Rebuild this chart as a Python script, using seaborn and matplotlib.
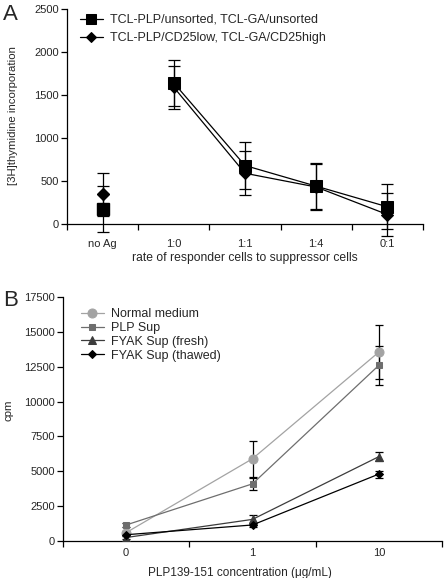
import matplotlib
matplotlib.use('Agg')
import matplotlib.pyplot as plt
import seaborn as sns
import numpy as np
from matplotlib.ticker import FixedLocator

# Panel A data
cats_a = ['no Ag', '1:0', '1:1', '1:4', '0:1']
unsorted = [175, 1640, 680, 440, 200]
unsorted_err = [270, 270, 270, 265, 260]
cd25 = [345, 1590, 590, 430, 110]
cd25_err = [250, 250, 255, 270, 250]
labels_a = ['TCL-PLP/unsorted, TCL-GA/unsorted', 'TCL-PLP/CD25low, TCL-GA/CD25high']

# Panel B data
cats_b = ['0', '1', '10']
normal = [600, 5900, 13550]
normal_err = [120, 1300, 1950]
plp = [1150, 4100, 12600]
plp_err = [150, 450, 1400]
fresh = [250, 1550, 6050]
fresh_err = [100, 300, 300]
thawed = [450, 1150, 4800]
thawed_err = [100, 150, 250]
labels_b = ['Normal medium', 'PLP Sup', 'FYAK Sup (fresh)', 'FYAK Sup (thawed)']

sns.set_style('ticks')
plt.rcParams['font.family'] = ['Liberation Sans', 'DejaVu Sans']

fig = plt.figure(figsize=(4.44, 5.78), dpi=100)
W, H = 444, 578

def style_axis(ax, ncat, ytop):
    ax.spines['top'].set_visible(False)
    ax.spines['right'].set_visible(False)
    ax.spines['bottom'].set_position(('data', 0))
    ax.spines['left'].set_bounds(0, ytop)
    for s in ['left', 'bottom']:
        ax.spines[s].set_linewidth(0.9)
        ax.spines[s].set_color('black')
    ax.set_xlim(-0.5, ncat - 0.5)
    ax.xaxis.set_minor_locator(FixedLocator(np.arange(ncat + 1) - 0.5))
    ax.tick_params(axis='x', which='major', length=0, labelsize=8, pad=11)
    ax.tick_params(axis='x', which='minor', length=4, width=0.9, direction='out', color='black')
    ax.tick_params(axis='y', length=4, width=0.9, direction='out', labelsize=8, pad=2, color='black')

# ---------------- Panel A ----------------
a_top, a_zero = 9, 224
a_ymin = -200
ppu = (a_zero - a_top) / 2500
a_bot = a_zero - a_ymin * ppu
axA = fig.add_axes([67 / W, 1 - a_bot / H, 356 / W, (a_bot - a_top) / H])
xa = np.arange(len(cats_a))

for vals, errs, mk, ms, lab in [(unsorted, unsorted_err, 's', 9, labels_a[0]),
                                 (cd25, cd25_err, 'D', 6.5, labels_a[1])]:
    axA.errorbar(xa, vals, yerr=errs, fmt='none', ecolor='black', elinewidth=0.9,
                 capsize=4, capthick=0.9, clip_on=False, zorder=2)
    sns.lineplot(x=xa[1:], y=vals[1:], ax=axA, color='black', marker=mk, markersize=ms,
                 markeredgecolor='black', linewidth=0.9, label=lab, zorder=3)
    axA.plot(xa[:1], vals[:1], marker=mk, markersize=ms, color='black', linestyle='none',
             zorder=3)

style_axis(axA, len(cats_a), 2500)
axA.set_ylim(a_ymin, 2500)
axA.set_yticks([0, 500, 1000, 1500, 2000, 2500])
axA.set_xticks(xa)
axA.set_xticklabels(cats_a)
axA.set_xlabel('rate of responder cells to suppressor cells', fontsize=8.7)
axA.xaxis.set_label_coords(0.5, (a_bot - 252) / (a_bot - a_top))
axA.set_ylabel('[3H]thymidine incorporation', fontsize=8.2)
axA.yaxis.set_label_coords((18 - 67) / 356, (a_bot - 116) / (a_bot - a_top))
axA.legend(loc='upper left', bbox_to_anchor=((80 - 67) / 356, (a_bot - 14) / (a_bot - a_top)),
           frameon=False, fontsize=9, borderpad=0, borderaxespad=0, handlelength=1.8,
           handletextpad=0.6, labelspacing=0.5, markerscale=0.75)

fig.text(3 / W, 1 - 4 / H, 'A', fontsize=16, va='top', ha='left')

# ---------------- Panel B ----------------
b_top, b_zero = 297, 541
axB = fig.add_axes([63 / W, 1 - b_zero / H, 379 / W, (b_zero - b_top) / H])
xb = np.arange(len(cats_b))

series_b = [(normal, normal_err, 'o', 6.5, '#a3a3a3', labels_b[0]),
            (plp, plp_err, 's', 4.5, '#6e6e6e', labels_b[1]),
            (fresh, fresh_err, '^', 5.5, '#3c3c3c', labels_b[2]),
            (thawed, thawed_err, 'D', 4.5, '#000000', labels_b[3])]
for vals, errs, mk, ms, col, lab in series_b:
    axB.errorbar(xb, vals, yerr=errs, fmt='none', ecolor='black', elinewidth=0.9,
                 capsize=3, capthick=0.9, clip_on=False, zorder=2)
    sns.lineplot(x=xb, y=vals, ax=axB, color=col, marker=mk, markersize=ms,
                 markeredgecolor=col, linewidth=0.9, label=lab, zorder=3)

style_axis(axB, len(cats_b), 17500)
axB.tick_params(axis='x', which='major', pad=5)
axB.set_ylim(0, 17500)
axB.set_yticks(np.arange(0, 17501, 2500))
axB.set_xticks(xb)
axB.set_xticklabels(cats_b)
axB.set_xlabel('PLP139-151 concentration (\u03bcg/mL)', fontsize=8.5)
axB.xaxis.set_label_coords((240 - 63) / 379, (b_zero - 567) / (b_zero - b_top))
axB.set_ylabel('cpm', fontsize=8.2)
axB.yaxis.set_label_coords((13 - 63) / 379, (b_zero - 410) / (b_zero - b_top))
axB.legend(loc='upper left', bbox_to_anchor=((81 - 63) / 379, (b_zero - 308) / (b_zero - b_top)),
           frameon=False, fontsize=9, borderpad=0, borderaxespad=0, handlelength=1.8,
           handletextpad=0.6, labelspacing=0.15)

fig.text(3 / W, 1 - 290 / H, 'B', fontsize=16, va='top', ha='left')

fig.savefig('out.png', dpi=100)
